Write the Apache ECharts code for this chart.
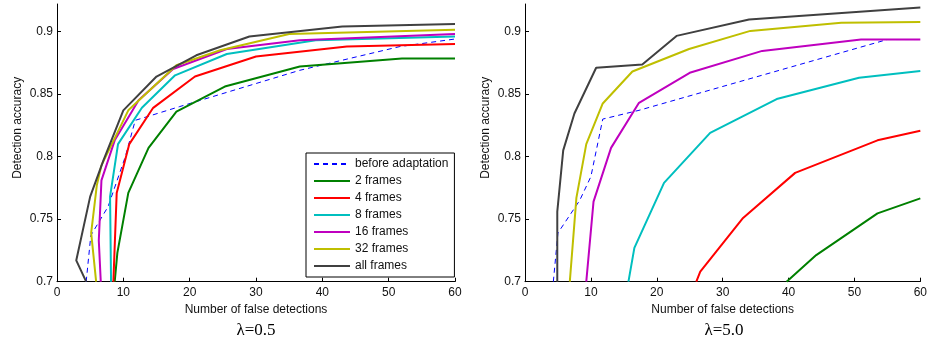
<!DOCTYPE html>
<html>
<head>
<meta charset="utf-8">
<script src="https://cdn.jsdelivr.net/npm/echarts@6/dist/echarts.min.js"></script>
<style>
  html, body { margin: 0; padding: 0; background: #fff; }
  #chart { width: 930px; height: 345px; }
</style>
</head>
<body>
<div id="chart"></div>
<script>
var xTicks = [0, 10, 20, 30, 40, 50, 60];
var yTicks = [0.7, 0.75, 0.8, 0.85, 0.9];
var seriesNames = ['before adaptation', '2 frames', '4 frames', '8 frames', '16 frames', '32 frames', 'all frames'];
var panelTitles = ['λ=0.5', 'λ=5.0'];

// lambda = 0.5  ([false detections, accuracy])
var before05 = [[4.4, 0.70], [5.1, 0.737], [7.7, 0.76], [10.3, 0.80], [11.8, 0.829], [18.5, 0.84], [36.6, 0.869], [51.7, 0.888], [60, 0.894]];
var frames2_05 = [[8.7, 0.70], [9.1, 0.723], [10.75, 0.771], [13.8, 0.807], [18, 0.836], [25.3, 0.856], [36.6, 0.872], [52, 0.8785], [60, 0.8785]];
var frames4_05 = [[8.5, 0.70], [9.0, 0.771], [10.9, 0.81], [14.5, 0.839], [20.8, 0.864], [30, 0.88], [43.7, 0.888], [60, 0.890]];
var frames8_05 = [[8.15, 0.70], [8.0, 0.768], [9.2, 0.81], [12.8, 0.839], [17.8, 0.865], [25.6, 0.882], [39, 0.893], [60, 0.896]];
var frames16_05 = [[6.6, 0.70], [6.3, 0.733], [6.7, 0.781], [8.7, 0.813], [12.3, 0.845], [17.5, 0.870], [25.6, 0.886], [36.6, 0.893], [60, 0.898]];
var frames32_05 = [[5.9, 0.70], [5.15, 0.739], [6.0, 0.777], [6.7, 0.793], [10.75, 0.837], [18, 0.873], [24.6, 0.885], [35, 0.898], [60, 0.9015]];
var allFrames05 = [[4.4, 0.70], [2.9, 0.717], [5, 0.768], [7, 0.797], [10, 0.837], [15, 0.864], [21, 0.881], [29, 0.896], [43, 0.904], [60, 0.906]];

// lambda = 5.0
var before50 = [[4.3, 0.70], [5.0, 0.739], [8.3, 0.765], [10, 0.784], [11.8, 0.83], [17.3, 0.837], [55, 0.8936], [60, 0.8936]];
var frames2_50 = [[39.7, 0.70], [44.2, 0.7213], [53.5, 0.7546], [60, 0.7666]];
var frames4_50 = [[26, 0.70], [26.6, 0.708], [33.1, 0.751], [41, 0.787], [53.5, 0.813], [60, 0.8206]];
var frames8_50 = [[15.7, 0.70], [16.6, 0.727], [21.1, 0.779], [28.1, 0.819], [38.2, 0.846], [50.7, 0.863], [60, 0.8685]];
var frames16_50 = [[9.3, 0.70], [10.4, 0.764], [13.06, 0.807], [17.3, 0.843], [25, 0.867], [36, 0.8845], [51, 0.8936], [60, 0.8936]];
var frames32_50 = [[6.8, 0.70], [7.8, 0.767], [9.3, 0.81], [11.8, 0.8425], [16.3, 0.868], [24.9, 0.886], [34.2, 0.9005], [48, 0.907], [60, 0.9077]];
var allFrames50 = [[4.9, 0.70], [4.9, 0.756], [5.8, 0.805], [7.5, 0.8345], [10.8, 0.871], [17.8, 0.8736], [23, 0.8965], [34, 0.9096], [60, 0.9192]];

var panels = [
    [before05, frames2_05, frames4_05, frames8_05, frames16_05, frames32_05, allFrames05],
    [before50, frames2_50, frames4_50, frames8_50, frames16_50, frames32_50, allFrames50]
];

var colors = ['#0000ff', '#008000', '#ff0000', '#00bfbf', '#bf00bf', '#bfbf00', '#404040'];
var font = '"Liberation Sans", Arial, sans-serif';

var makeXAxis = function(idx) {
    return {
        type: 'value',
        gridIndex: idx,
        min: 0,
        max: 60,
        interval: 10,
        name: 'Number of false detections',
        nameLocation: 'middle',
        nameGap: 19,
        nameTextStyle: { color: '#111', fontSize: 12, fontFamily: font },
        axisLine: { onZero: false, lineStyle: { color: '#000', width: 1 } },
        axisTick: { inside: true, length: 4, lineStyle: { color: '#000' } },
        axisLabel: { margin: 5, color: '#111', fontSize: 12, fontFamily: font },
        splitLine: { show: false }
    };
};

var makeYAxis = function(idx) {
    return {
        type: 'value',
        gridIndex: idx,
        min: 0.7,
        max: 0.922,
        name: 'Detection accuracy',
        nameLocation: 'middle',
        nameGap: 33,
        nameTextStyle: { color: '#111', fontSize: 12, fontFamily: font, padding: [0, 0, 0, 30] },
        axisLine: { show: true, lineStyle: { color: '#000', width: 1 } },
        axisTick: { inside: true, length: 4, customValues: yTicks, lineStyle: { color: '#000' } },
        axisLabel: { margin: 4, customValues: yTicks, color: '#111', fontSize: 12, fontFamily: font },
        splitLine: { show: false }
    };
};

var series = [];
panels.forEach(function(panel, p) {
    panel.forEach(function(data, i) {
        series.push({
            name: seriesNames[i],
            type: 'line',
            xAxisIndex: p,
            yAxisIndex: p,
            data: data,
            symbol: 'none',
            itemStyle: { color: colors[i] },
            lineStyle: {
                color: colors[i],
                width: i === 0 ? 1 : 2,
                type: i === 0 ? [5, 4] : 'solid'
            }
        });
    });
});

var option = {
    animation: false,
    backgroundColor: '#fff',
    grid: [
        { left: 57, top: 4, width: 398, bottom: 63.3 },
        { left: 525, top: 4, width: 398, bottom: 63.3 }
    ],
    xAxis: [makeXAxis(0), makeXAxis(1)],
    yAxis: [makeYAxis(0), makeYAxis(1)],
    legend: {
        data: seriesNames,
        orient: 'vertical',
        left: 306,
        top: 153,
        itemWidth: 36,
        itemHeight: 12,
        itemGap: 5,
        padding: [5, 6, 5, 7],
        borderColor: '#000',
        borderWidth: 1,
        borderRadius: 0,
        backgroundColor: '#fff',
        // only the line sample, no marker
        itemStyle: { opacity: 0 },
        textStyle: { color: '#111', fontSize: 12, fontFamily: font }
    },
    graphic: [
        { type: 'text', x: 256, y: 331, style: { text: panelTitles[0], textAlign: 'center', textVerticalAlign: 'middle', font: '17px "Liberation Serif", "Times New Roman", serif', fill: '#000' } },
        { type: 'text', x: 724, y: 331, style: { text: panelTitles[1], textAlign: 'center', textVerticalAlign: 'middle', font: '17px "Liberation Serif", "Times New Roman", serif', fill: '#000' } }
    ],
    series: series
};

document.addEventListener('DOMContentLoaded', function() {
    var chart = echarts.init(document.getElementById('chart'));
    chart.setOption(option);
});
</script>
</body>
</html>
